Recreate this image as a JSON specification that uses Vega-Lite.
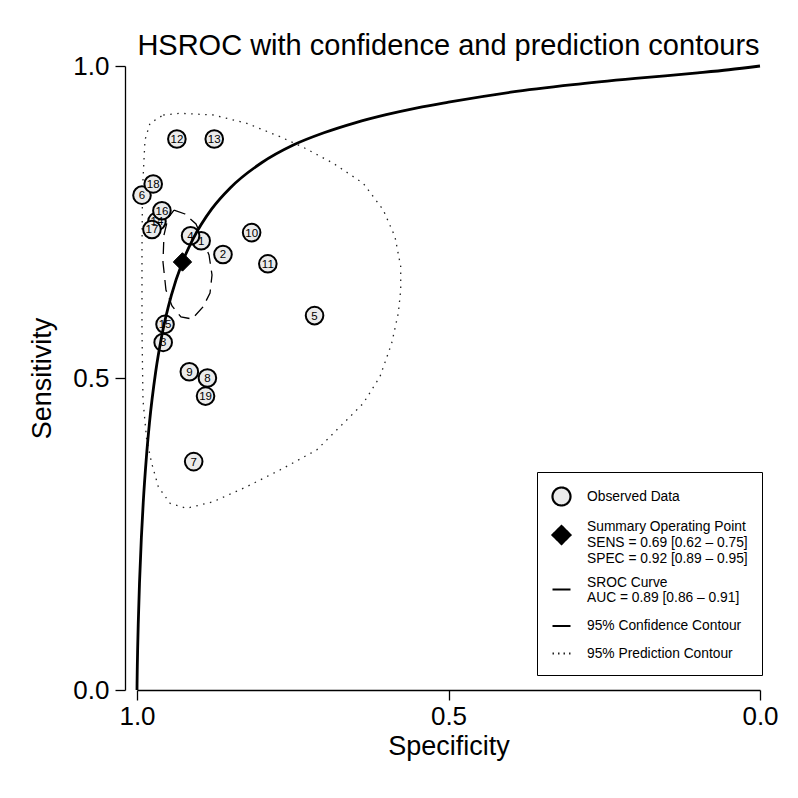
{
  "$schema": "https://vega.github.io/schema/vega-lite/v6.json",
  "width": 623,
  "height": 624,
  "autosize": {"type": "none"},
  "padding": {"left": 137, "top": 66, "right": 38, "bottom": 108},
  "background": "white",
  "config": {
    "font": "Liberation Sans",
    "view": {"stroke": null},
    "axis": {"grid": false, "domainColor": "black", "tickColor": "black", "domainWidth": 1.3, "tickWidth": 1.3, "tickSize": 10, "labelColor": "black", "titleColor": "black", "labelFontSize": 26, "titleFontSize": 27, "titleFontWeight": "normal", "labelFlush": false, "labelOverlap": false}
  },
  "title": {"text": "HSROC with confidence and prediction contours", "fontSize": 29, "fontWeight": "normal", "anchor": "middle", "frame": "group", "baseline": "bottom", "offset": -37, "color": "black"},
  "datasets": {
    "studies": [
      {"id": "1", "spec": 0.897, "sens": 0.720},
      {"id": "2", "spec": 0.862, "sens": 0.698},
      {"id": "3", "spec": 0.958, "sens": 0.557},
      {"id": "4", "spec": 0.914, "sens": 0.728},
      {"id": "5", "spec": 0.715, "sens": 0.600},
      {"id": "6", "spec": 0.992, "sens": 0.793},
      {"id": "7", "spec": 0.909, "sens": 0.366},
      {"id": "8", "spec": 0.887, "sens": 0.500},
      {"id": "9", "spec": 0.916, "sens": 0.510},
      {"id": "10", "spec": 0.816, "sens": 0.733},
      {"id": "11", "spec": 0.790, "sens": 0.683},
      {"id": "12", "spec": 0.936, "sens": 0.883},
      {"id": "13", "spec": 0.876, "sens": 0.883},
      {"id": "14", "spec": 0.968, "sens": 0.751},
      {"id": "15", "spec": 0.955, "sens": 0.586},
      {"id": "16", "spec": 0.960, "sens": 0.768},
      {"id": "17", "spec": 0.976, "sens": 0.738},
      {"id": "18", "spec": 0.974, "sens": 0.811},
      {"id": "19", "spec": 0.890, "sens": 0.471}
    ],
    "summary": [{"spec": 0.927, "sens": 0.686}],
    "curve": [
      {"o": 0, "spec": 1.0, "sens": 0.0},
      {"o": 1, "spec": 0.9999, "sens": 0.011},
      {"o": 2, "spec": 0.9995, "sens": 0.038},
      {"o": 3, "spec": 0.999, "sens": 0.064},
      {"o": 4, "spec": 0.998, "sens": 0.106},
      {"o": 5, "spec": 0.996, "sens": 0.171},
      {"o": 6, "spec": 0.993, "sens": 0.244},
      {"o": 7, "spec": 0.99, "sens": 0.300},
      {"o": 8, "spec": 0.985, "sens": 0.372},
      {"o": 9, "spec": 0.98, "sens": 0.428},
      {"o": 10, "spec": 0.97, "sens": 0.510},
      {"o": 11, "spec": 0.96, "sens": 0.569},
      {"o": 12, "spec": 0.945, "sens": 0.632},
      {"o": 13, "spec": 0.927, "sens": 0.686},
      {"o": 14, "spec": 0.91, "sens": 0.723},
      {"o": 15, "spec": 0.88, "sens": 0.771},
      {"o": 16, "spec": 0.85, "sens": 0.805},
      {"o": 17, "spec": 0.80, "sens": 0.845},
      {"o": 18, "spec": 0.75, "sens": 0.873},
      {"o": 19, "spec": 0.70, "sens": 0.893},
      {"o": 20, "spec": 0.65, "sens": 0.909},
      {"o": 21, "spec": 0.60, "sens": 0.922},
      {"o": 22, "spec": 0.55, "sens": 0.933},
      {"o": 23, "spec": 0.50, "sens": 0.942},
      {"o": 24, "spec": 0.40, "sens": 0.958},
      {"o": 25, "spec": 0.30, "sens": 0.970},
      {"o": 26, "spec": 0.20, "sens": 0.980},
      {"o": 27, "spec": 0.10, "sens": 0.989},
      {"o": 28, "spec": 0.05, "sens": 0.994},
      {"o": 29, "spec": 0.0, "sens": 1.0}
    ],
    "confidence": [
      {"o": 0, "spec": 0.9406, "sens": 0.7692},
      {"o": 1, "spec": 0.9230, "sens": 0.7628},
      {"o": 2, "spec": 0.9053, "sens": 0.7468},
      {"o": 3, "spec": 0.8844, "sens": 0.6971},
      {"o": 4, "spec": 0.8796, "sens": 0.6651},
      {"o": 5, "spec": 0.8828, "sens": 0.6362},
      {"o": 6, "spec": 0.8941, "sens": 0.6138},
      {"o": 7, "spec": 0.9117, "sens": 0.5946},
      {"o": 8, "spec": 0.9294, "sens": 0.5978},
      {"o": 9, "spec": 0.9438, "sens": 0.6154},
      {"o": 10, "spec": 0.9535, "sens": 0.6410},
      {"o": 11, "spec": 0.9583, "sens": 0.6859},
      {"o": 12, "spec": 0.9567, "sens": 0.7292},
      {"o": 13, "spec": 0.9502, "sens": 0.7564},
      {"o": 14, "spec": 0.9406, "sens": 0.7692}
    ],
    "prediction": [
      {"o": 0, "spec": 0.9578, "sens": 0.9215},
      {"o": 1, "spec": 0.9310, "sens": 0.9242},
      {"o": 2, "spec": 0.8775, "sens": 0.9215},
      {"o": 3, "spec": 0.8239, "sens": 0.9082},
      {"o": 4, "spec": 0.7705, "sens": 0.8867},
      {"o": 5, "spec": 0.7331, "sens": 0.8697},
      {"o": 6, "spec": 0.6849, "sens": 0.8441},
      {"o": 7, "spec": 0.6368, "sens": 0.8120},
      {"o": 8, "spec": 0.6047, "sens": 0.7692},
      {"o": 9, "spec": 0.5859, "sens": 0.7264},
      {"o": 10, "spec": 0.5767, "sens": 0.6784},
      {"o": 11, "spec": 0.5767, "sens": 0.6410},
      {"o": 12, "spec": 0.5806, "sens": 0.6037},
      {"o": 13, "spec": 0.5912, "sens": 0.5556},
      {"o": 14, "spec": 0.6100, "sens": 0.5021},
      {"o": 15, "spec": 0.6368, "sens": 0.4595},
      {"o": 16, "spec": 0.6634, "sens": 0.4327},
      {"o": 17, "spec": 0.7116, "sens": 0.3846},
      {"o": 18, "spec": 0.7705, "sens": 0.3526},
      {"o": 19, "spec": 0.8239, "sens": 0.3258},
      {"o": 20, "spec": 0.8775, "sens": 0.3018},
      {"o": 21, "spec": 0.9202, "sens": 0.2912},
      {"o": 22, "spec": 0.9470, "sens": 0.2992},
      {"o": 23, "spec": 0.9658, "sens": 0.3258},
      {"o": 24, "spec": 0.9764, "sens": 0.3633},
      {"o": 25, "spec": 0.9844, "sens": 0.4006},
      {"o": 26, "spec": 0.9904, "sens": 0.4647},
      {"o": 27, "spec": 0.9920, "sens": 0.5769},
      {"o": 28, "spec": 0.9920, "sens": 0.7051},
      {"o": 29, "spec": 0.9912, "sens": 0.8013},
      {"o": 30, "spec": 0.9872, "sens": 0.8814},
      {"o": 31, "spec": 0.9791, "sens": 0.9082},
      {"o": 32, "spec": 0.9578, "sens": 0.9215}
    ],
    "legendKeys": [
      {"entry": "Observed Data"},
      {"entry": "Summary Operating Point\nSENS = 0.69 [0.62 – 0.75]\nSPEC = 0.92 [0.89 – 0.95]"},
      {"entry": "SROC Curve\nAUC = 0.89 [0.86 – 0.91]"},
      {"entry": "95% Confidence Contour"},
      {"entry": "95% Prediction Contour"}
    ]
  },
  "layer": [
    {
      "data": {"name": "prediction"},
      "mark": {"type": "line", "stroke": "#222222", "strokeWidth": 1.3, "strokeDash": [1.5, 5.5]},
      "encoding": {
        "x": {"field": "spec", "type": "quantitative", "scale": {"domain": [0, 1], "reverse": true, "nice": false, "zero": false},
          "axis": {"values": [0, 0.5, 1], "format": ".1f", "title": "Specificity", "labelPadding": 3, "titlePadding": 4}},
        "y": {"field": "sens", "type": "quantitative", "scale": {"domain": [0, 1], "nice": false, "zero": false},
          "axis": {"values": [0, 0.5, 1], "format": ".1f", "title": "Sensitivity", "offset": 12, "labelPadding": 6, "titlePadding": 16}},
        "order": {"field": "o", "type": "quantitative"}
      }
    },
    {
      "data": {"name": "confidence"},
      "mark": {"type": "line", "stroke": "black", "strokeWidth": 1.3, "strokeDash": [12, 7]},
      "encoding": {
        "x": {"field": "spec", "type": "quantitative"},
        "y": {"field": "sens", "type": "quantitative"},
        "order": {"field": "o", "type": "quantitative"}
      }
    },
    {
      "data": {"name": "studies"},
      "mark": {"type": "point", "shape": "circle", "filled": true, "fill": "#ebebeb", "stroke": "black", "strokeWidth": 2, "size": 310, "opacity": 1},
      "encoding": {
        "x": {"field": "spec", "type": "quantitative"},
        "y": {"field": "sens", "type": "quantitative"}
      }
    },
    {
      "data": {"name": "studies"},
      "mark": {"type": "text", "fontSize": 11.5, "fill": "black", "align": "center", "baseline": "middle", "dy": 1},
      "encoding": {
        "x": {"field": "spec", "type": "quantitative"},
        "y": {"field": "sens", "type": "quantitative"},
        "text": {"field": "id", "type": "nominal"}
      }
    },
    {
      "data": {"name": "curve"},
      "mark": {"type": "line", "stroke": "black", "strokeWidth": 2.8, "interpolate": "monotone"},
      "encoding": {
        "x": {"field": "spec", "type": "quantitative"},
        "y": {"field": "sens", "type": "quantitative"},
        "order": {"field": "o", "type": "quantitative"}
      }
    },
    {
      "data": {"name": "summary"},
      "mark": {"type": "point", "shape": "diamond", "filled": true, "fill": "black", "stroke": "black", "strokeWidth": 1, "size": 340, "opacity": 1},
      "encoding": {
        "x": {"field": "spec", "type": "quantitative"},
        "y": {"field": "sens", "type": "quantitative"}
      }
    },
    {
      "data": {"name": "legendKeys"},
      "mark": {"type": "point", "opacity": 0, "filled": true},
      "encoding": {
        "shape": {
          "field": "entry",
          "type": "nominal",
          "scale": {
            "domain": [
              "Observed Data",
              "Summary Operating Point\nSENS = 0.69 [0.62 – 0.75]\nSPEC = 0.92 [0.89 – 0.95]",
              "SROC Curve\nAUC = 0.89 [0.86 – 0.91]",
              "95% Confidence Contour",
              "95% Prediction Contour"
            ],
            "range": ["circle", "diamond", "M-1,0L1,0", "M-1,0L1,0", "M-1,0L1,0"]
          },
          "legend": {
            "title": null,
            "orient": "none",
            "legendX": 400,
            "legendY": 406,
            "direction": "vertical",
            "padding": 14,
            "strokeColor": "black",
            "fillColor": "white",
            "symbolSize": 324,
            "symbolOpacity": 1,
            "symbolStrokeWidth": 2.2,
            "labelFontSize": 13.8,
            "labelColor": "black",
            "labelOffset": 15,
            "labelLimit": 400,
            "labelBaseline": {"expr": "indexof(datum.label, 'Summary') === 0 ? 'line-bottom' : (indexof(datum.label, 'SROC') === 0 ? 'bottom' : 'middle')"},
            "rowPadding": 9.5,
            "labelExpr": "split(datum.label, '\\n')"
          }
        },
        "fill": {
          "field": "entry",
          "type": "nominal",
          "scale": {
            "domain": [
              "Observed Data",
              "Summary Operating Point\nSENS = 0.69 [0.62 – 0.75]\nSPEC = 0.92 [0.89 – 0.95]",
              "SROC Curve\nAUC = 0.89 [0.86 – 0.91]",
              "95% Confidence Contour",
              "95% Prediction Contour"
            ],
            "range": ["#ebebeb", "black", "transparent", "transparent", "transparent"]
          }
        },
        "stroke": {
          "field": "entry",
          "type": "nominal",
          "scale": {
            "domain": [
              "Observed Data",
              "Summary Operating Point\nSENS = 0.69 [0.62 – 0.75]\nSPEC = 0.92 [0.89 – 0.95]",
              "SROC Curve\nAUC = 0.89 [0.86 – 0.91]",
              "95% Confidence Contour",
              "95% Prediction Contour"
            ],
            "range": ["black", "black", "black", "black", "#222222"]
          }
        },
        "strokeDash": {
          "field": "entry",
          "type": "nominal",
          "scale": {
            "domain": [
              "Observed Data",
              "Summary Operating Point\nSENS = 0.69 [0.62 – 0.75]\nSPEC = 0.92 [0.89 – 0.95]",
              "SROC Curve\nAUC = 0.89 [0.86 – 0.91]",
              "95% Confidence Contour",
              "95% Prediction Contour"
            ],
            "range": [[1, 0], [1, 0], [1, 0], [1, 0], [1.5, 4]]
          }
        }
      }
    }
  ]
}
